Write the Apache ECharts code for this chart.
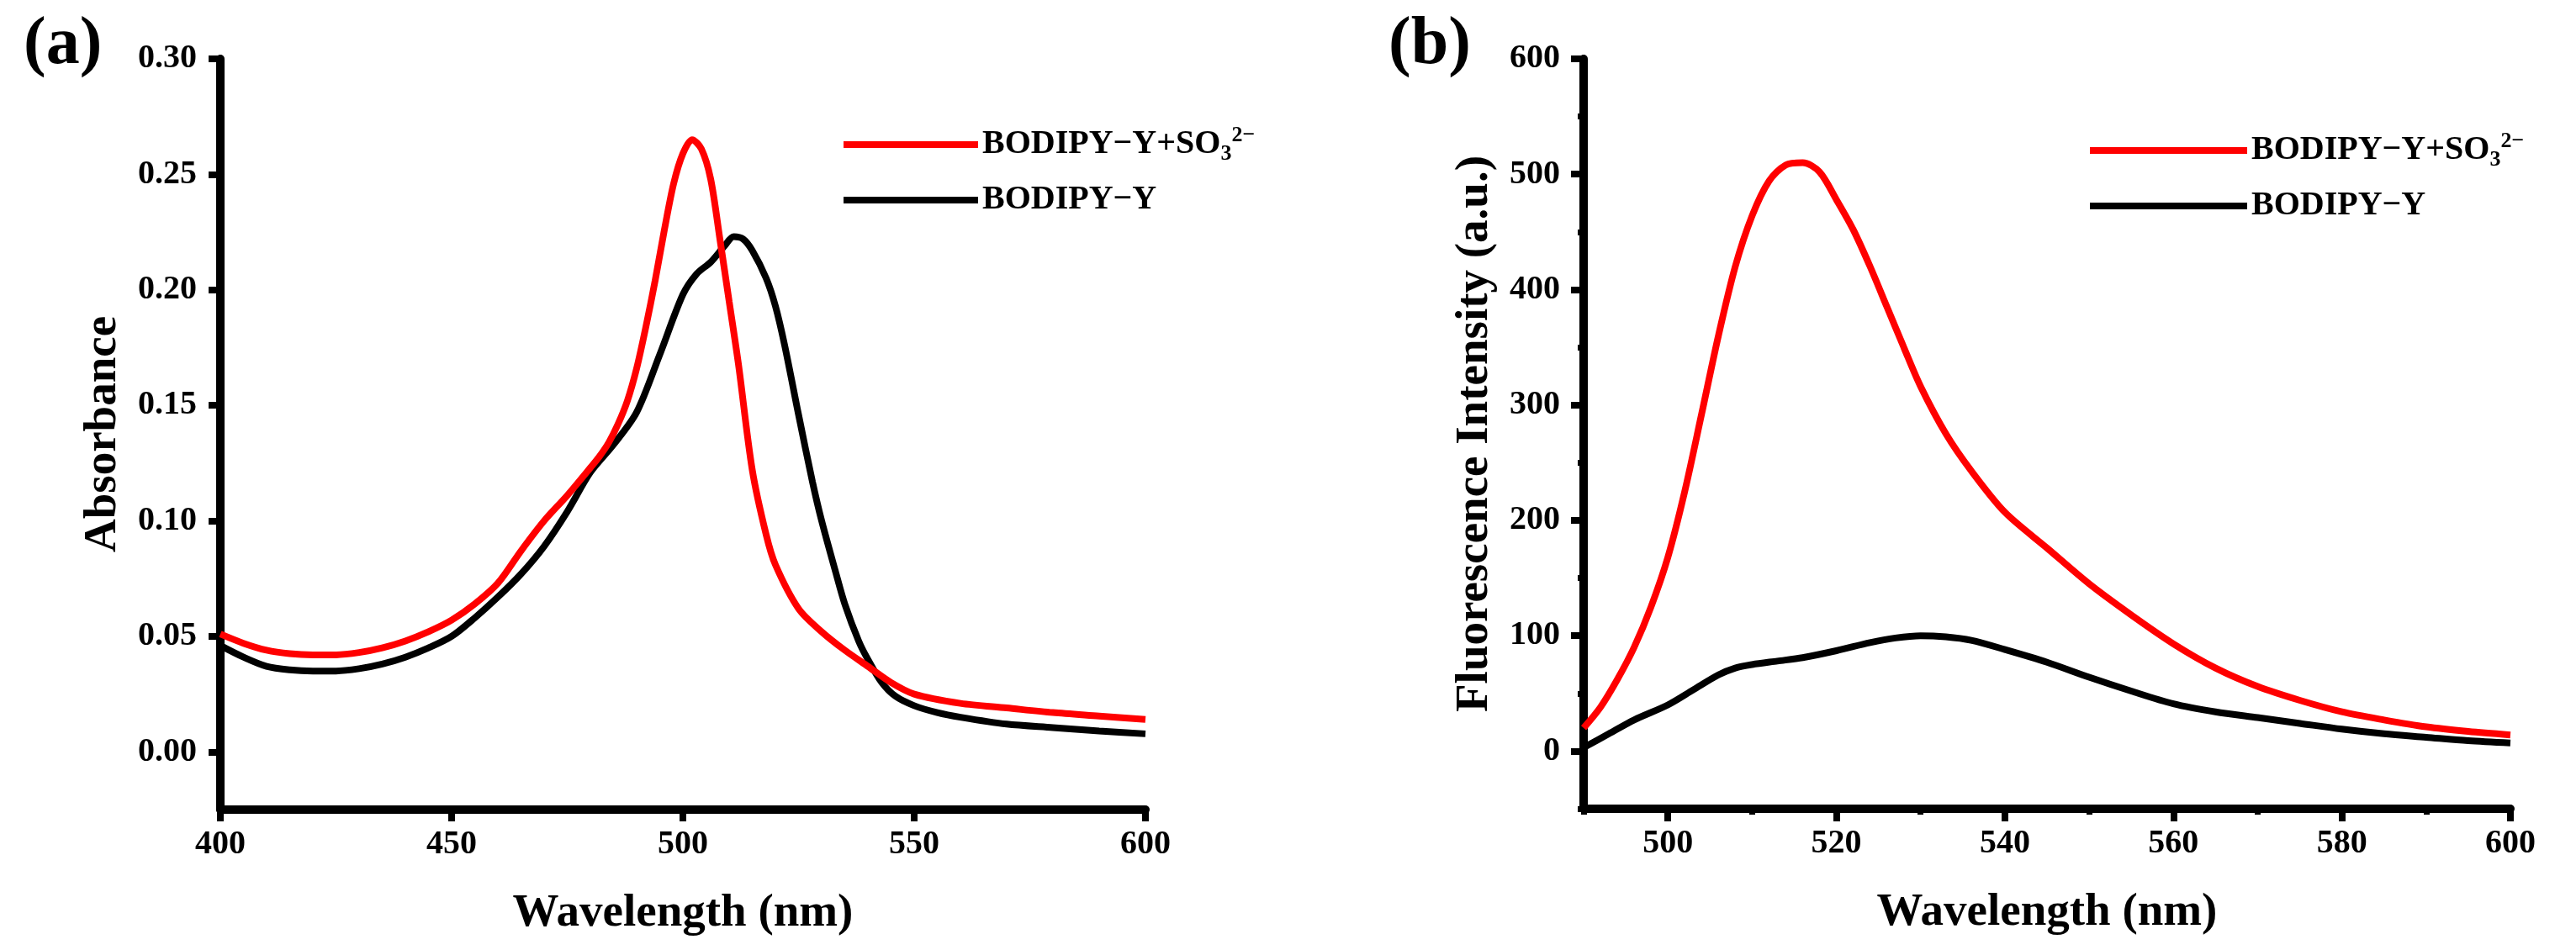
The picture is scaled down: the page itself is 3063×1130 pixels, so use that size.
<!DOCTYPE html>
<html>
<head>
<meta charset="UTF-8">
<title>BODIPY-Y absorbance / fluorescence</title>
<script src="https://cdn.jsdelivr.net/npm/echarts@6/dist/echarts.min.js"></script>
<style>
  html, body { margin: 0; padding: 0; background: #fff; }
  #chart { width: 3063px; height: 1130px; }
</style>
</head>
<body>
<div id="chart"></div>
<script>
// (a) absorbance spectra
var absWlRed = [400, 405, 410, 415, 420, 425, 430, 435, 440, 445, 450, 455, 460, 465, 470, 475, 480, 482, 484, 486, 488, 490, 492, 494, 496, 498, 500, 502, 504, 506, 508, 510, 512, 515, 518, 520, 525, 530, 535, 540, 545, 550, 560, 570, 580, 590, 600];
var absRed = [0.051, 0.047, 0.044, 0.0425, 0.042, 0.042, 0.043, 0.045, 0.048, 0.052, 0.057, 0.064, 0.073, 0.087, 0.100, 0.111, 0.123, 0.128, 0.134, 0.142, 0.152, 0.166, 0.184, 0.204, 0.226, 0.246, 0.259, 0.265, 0.261, 0.248, 0.222, 0.195, 0.168, 0.122, 0.094, 0.081, 0.062, 0.052, 0.044, 0.037, 0.030, 0.025, 0.021, 0.019, 0.017, 0.0155, 0.014];

var absWlBlack = [400, 405, 410, 415, 420, 425, 430, 435, 440, 445, 450, 455, 460, 465, 470, 475, 480, 485, 490, 495, 500, 503, 506, 509, 511, 513, 515, 518, 520, 522, 525, 528, 530, 533, 535, 538, 540, 543, 546, 550, 555, 560, 570, 580, 590, 600];
var absBlack = [0.046, 0.041, 0.037, 0.0355, 0.035, 0.035, 0.036, 0.038, 0.041, 0.045, 0.050, 0.058, 0.067, 0.077, 0.089, 0.104, 0.121, 0.133, 0.147, 0.172, 0.198, 0.207, 0.212, 0.219, 0.223, 0.222, 0.217, 0.205, 0.193, 0.176, 0.146, 0.117, 0.100, 0.078, 0.064, 0.048, 0.040, 0.030, 0.024, 0.020, 0.017, 0.015, 0.012, 0.0105, 0.009, 0.0078];

// (b) fluorescence spectra
var flWlRed = [490, 492, 494, 496, 498, 500, 502, 504, 506, 508, 510, 512, 514, 516, 518, 520, 522, 524, 526, 528, 530, 533, 536, 540, 545, 550, 555, 560, 565, 570, 575, 580, 585, 590, 595, 600];
var flRed = [20, 38, 62, 90, 125, 168, 225, 292, 360, 420, 464, 494, 508, 510, 502, 478, 452, 420, 385, 350, 316, 275, 243, 207, 176, 145, 118, 93, 72, 56, 44, 34, 27, 21, 17, 14];

var flWlBlack = [490, 493, 496, 500, 503, 506, 508, 510, 513, 516, 520, 524, 527, 530, 533, 536, 540, 545, 550, 555, 560, 565, 570, 575, 580, 585, 590, 595, 600];
var flBlack = [3, 15, 27, 40, 53, 66, 72, 75, 78, 81, 87, 94, 98, 100, 99, 96, 88, 77, 64, 52, 41, 34, 29, 24, 19, 15, 12, 9, 7];

// ticks
var absXTicks = [400, 450, 500, 550, 600];
var absYTicks = [0, 0.05, 0.10, 0.15, 0.20, 0.25, 0.30];
var flXTicks = [500, 520, 540, 560, 580, 600];
var flXMinor = [490, 510, 530, 550, 570, 590];
var flYTicks = [0, 100, 200, 300, 400, 500, 600];
var flYMinor = [-50, 50, 150, 250, 350, 450, 550];

var nameSO3 = 'BODIPY−Y+SO3';
var nameProbe = 'BODIPY−Y';

function pairs(xs, ys) {
  var out = [];
  for (var i = 0; i < xs.length; i++) out.push([xs[i], ys[i]]);
  return out;
}

var FONT = "'Liberation Serif', 'Times New Roman', serif";
var chart = echarts.init(document.getElementById('chart'));

var tickLabel = { fontFamily: FONT, fontSize: 40, fontWeight: 'bold', color: '#000' };
var axisName = { fontFamily: FONT, fontSize: 55, fontWeight: 'bold', color: '#000' };
var lineOn = { show: true, onZero: false, lineStyle: { color: '#000', width: 10 } };
var lineOff = { show: false, onZero: false };

function legendCfg(left, top, width, textGap) {
  return {
    orient: 'vertical',
    left: left,
    top: top,
    padding: 0,
    itemWidth: width,
    itemHeight: 8,
    itemGap: 22,
    itemTextGap: textGap,
    icon: 'rect',
    selectedMode: false,
    data: [nameSO3, nameProbe],
    formatter: function (name) {
      if (name === nameSO3) return '{t|BODIPY−Y+SO}{sub|3}{sup|2−}';
      return '{t|' + name + '}';
    },
    textStyle: {
      rich: {
        t: { fontFamily: FONT, fontSize: 40, fontWeight: 'bold', color: '#000', lineHeight: 48 },
        sub: { fontFamily: FONT, fontSize: 26, fontWeight: 'bold', color: '#000', lineHeight: 26, verticalAlign: 'bottom' },
        sup: { fontFamily: FONT, fontSize: 26, fontWeight: 'bold', color: '#000', lineHeight: 26, verticalAlign: 'top' }
      }
    }
  };
}

var option = {
  backgroundColor: '#fff',
  animation: false,
  title: [
    { text: '(a)', left: 28, top: 14, padding: 0, textStyle: { fontFamily: FONT, fontSize: 80, fontWeight: 'bold', color: '#000' } },
    { text: '(b)', left: 1651, top: 14, padding: 0, textStyle: { fontFamily: FONT, fontSize: 80, fontWeight: 'bold', color: '#000' } }
  ],
  legend: [
    legendCfg(1003, 148, 160, 15),
    legendCfg(2485, 155, 187, 29)
  ],
  grid: [
    { left: 262, top: 70, width: 1100, height: 893, containLabel: false, outerBoundsMode: 'none' },
    { left: 1883, top: 70, width: 1102, height: 892, containLabel: false, outerBoundsMode: 'none' }
  ],
  xAxis: [
    {
      gridIndex: 0, type: 'value', min: 400, max: 600, position: 'bottom',
      axisLine: lineOn,
      axisTick: { length: 14, lineStyle: { width: 8, color: '#000' }, customValues: absXTicks },
      axisLabel: Object.assign({ margin: 22, customValues: absXTicks }, tickLabel),
      splitLine: { show: false },
      name: 'Wavelength (nm)', nameLocation: 'middle', nameGap: 96, nameTextStyle: axisName
    },
    {
      gridIndex: 1, type: 'value', min: 490, max: 600, position: 'bottom',
      axisLine: lineOn,
      axisTick: { length: 15, lineStyle: { width: 8, color: '#000' }, customValues: flXTicks },
      axisLabel: Object.assign({ margin: 22, customValues: flXTicks }, tickLabel),
      splitLine: { show: false },
      name: 'Wavelength (nm)', nameLocation: 'middle', nameGap: 96, nameTextStyle: axisName
    },
    {
      gridIndex: 1, type: 'value', min: 490, max: 600, position: 'bottom',
      axisLine: lineOff,
      axisTick: { length: 7, lineStyle: { width: 7, color: '#000' }, customValues: flXMinor },
      axisLabel: { show: false },
      splitLine: { show: false }
    }
  ],
  yAxis: [
    {
      gridIndex: 0, type: 'value', min: -0.025, max: 0.30, position: 'left',
      axisLine: lineOn,
      axisTick: { length: 14, lineStyle: { width: 8, color: '#000' }, customValues: absYTicks },
      axisLabel: Object.assign({ margin: 28, customValues: absYTicks, formatter: function (v) { return v.toFixed(2); } }, tickLabel),
      splitLine: { show: false },
      name: 'Absorbance', nameLocation: 'middle', nameGap: 112, nameTextStyle: axisName
    },
    {
      gridIndex: 1, type: 'value', min: -50, max: 600, position: 'left',
      axisLine: lineOn,
      axisTick: { length: 15, lineStyle: { width: 8, color: '#000' }, customValues: flYTicks },
      axisLabel: Object.assign({ margin: 28, customValues: flYTicks }, tickLabel),
      splitLine: { show: false },
      name: 'Fluorescence Intensity (a.u.)', nameLocation: 'middle', nameGap: 102, nameTextStyle: axisName
    },
    {
      gridIndex: 1, type: 'value', min: -50, max: 600, position: 'left',
      axisLine: lineOff,
      axisTick: { length: 7, lineStyle: { width: 7, color: '#000' }, customValues: flYMinor },
      axisLabel: { show: false },
      splitLine: { show: false }
    }
  ],
  series: [
    {
      name: nameProbe, type: 'line', xAxisIndex: 0, yAxisIndex: 0,
      data: pairs(absWlBlack, absBlack), showSymbol: false, smooth: 0.3,
      itemStyle: { color: '#000' }, lineStyle: { color: '#000', width: 8 }
    },
    {
      name: nameSO3, type: 'line', xAxisIndex: 0, yAxisIndex: 0,
      data: pairs(absWlRed, absRed), showSymbol: false, smooth: 0.3,
      itemStyle: { color: '#ff0000' }, lineStyle: { color: '#ff0000', width: 8 }
    },
    {
      name: nameProbe, type: 'line', xAxisIndex: 1, yAxisIndex: 1,
      data: pairs(flWlBlack, flBlack), showSymbol: false, smooth: 0.3,
      itemStyle: { color: '#000' }, lineStyle: { color: '#000', width: 8 }
    },
    {
      name: nameSO3, type: 'line', xAxisIndex: 1, yAxisIndex: 1,
      data: pairs(flWlRed, flRed), showSymbol: false, smooth: 0.3,
      itemStyle: { color: '#ff0000' }, lineStyle: { color: '#ff0000', width: 8 }
    }
  ]
};

chart.setOption(option);
</script>
</body>
</html>
